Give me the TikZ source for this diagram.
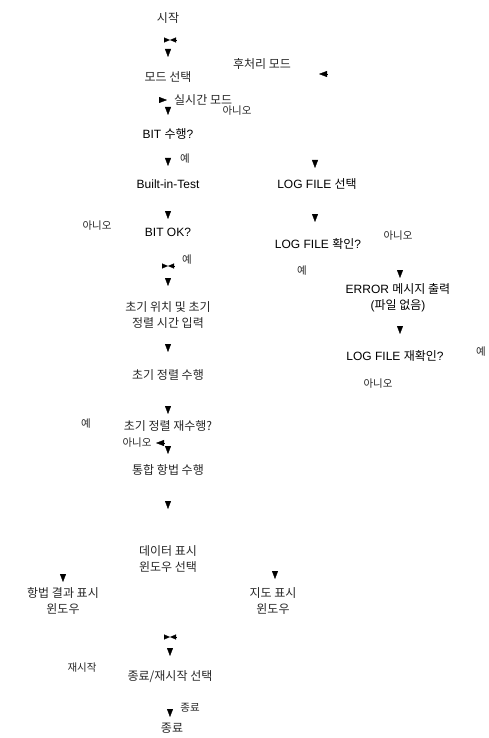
\documentclass[tikz,border=0pt]{standalone}
\usepackage{fontspec}
\setmainfont{Liberation Sans}
\newfontfamily\kr{Noto Sans CJK KR}
\usetikzlibrary{arrows.meta}
\begin{document}
\begin{tikzpicture}[x=1pt,y=-1pt,
  lbl/.style={font=\fontsize{12}{16}\selectfont, inner sep=0pt, align=center},
  klbl/.style={font=\fontsize{12}{16}\selectfont\kr, inner sep=0pt, align=center, text=black!85},
  yn/.style={font=\fontsize{10.5}{12}\selectfont\kr, inner sep=0pt, text=black!85},
  arr/.style={-{Triangle[width=6pt,length=8pt]}, line width=0.3pt},
  bow/.style={-{Triangle[width=5pt,length=6pt]}, line width=0.3pt}]
\useasboundingbox (0,0) rectangle (489,738);

% ---- nodes ----
\node[klbl] (start) at (168,18) {시작};
\node[klbl] (mode) at (168,77) {모드 선택};
\node[klbl] (post) at (262,64) {후처리 모드};
\node[klbl,anchor=west] (rt) at (174,100) {실시간 모드};
\node[yn] (no1) at (237,111) {아니오};
\node[lbl] (bitrun) at (168,134) {BIT {\kr 수행}?};
\node[yn] (yes1) at (185,159) {예};
\node[lbl] (bit) at (168,184) {Built-in-Test};
\node[lbl] (logsel) at (317,184) {LOG FILE {\kr 선택}};
\node[yn] (no2) at (97,226) {아니오};
\node[lbl] (bitok) at (168,232) {BIT OK?};
\node[lbl] (logchk) at (318,244) {LOG FILE {\kr 확인}?};
\node[yn] (no3) at (398,236) {아니오};
\node[yn] (yes2) at (187,260) {예};
\node[yn] (yes3) at (302,271) {예};
\node[lbl] (err) at (398,298) {ERROR {\kr 메시지 출력}\\({\kr 파일 없음})};
\node[klbl] (init) at (168,315) {초기 위치 및 초기\\정렬 시간 입력};
\node[lbl] (logre) at (395,356) {LOG FILE {\kr 재확인}?};
\node[yn] (yes4) at (481,352) {예};
\node[klbl] (align) at (168,375) {초기 정렬 수행};
\node[yn] (no4) at (378,384) {아니오};
\node[yn] (yes5) at (86,424) {예};
\node[klbl] (realign) at (168,426) {초기 정렬 재수행?};
\node[yn] (no5) at (137,443) {아니오};
\node[klbl] (nav) at (168,470) {통합 항법 수행};
\node[klbl] (disp) at (168,559) {데이터 표시\\윈도우 선택};
\node[klbl] (navwin) at (63,601) {항법 결과 표시\\윈도우};
\node[klbl] (mapwin) at (273,601) {지도 표시\\윈도우};
\node[yn] (restart) at (82,668) {재시작};
\node[klbl] (sel) at (170,677) {종료/재시작 선택};
\node[yn] (endlbl) at (190,708) {종료};
\node[klbl] (end) at (172,728) {종료};

% ---- arrow tip coordinates ----
\coordinate (d1) at (168,57);
\coordinate (d2) at (168,115);
\coordinate (d3) at (168,166);
\coordinate (d4) at (315,168);
\coordinate (d5) at (168,219);
\coordinate (d6) at (315,222);
\coordinate (d7) at (400,278);
\coordinate (d8) at (168,286);
\coordinate (d9) at (400,334);
\coordinate (d10) at (168,352);
\coordinate (d11) at (168,414);
\coordinate (d12) at (168,454);
\coordinate (d13) at (168,509);
\coordinate (d14) at (63,582);
\coordinate (d15) at (275,579);
\coordinate (d16) at (170,656);
\coordinate (d17) at (170,717);
\coordinate (l1) at (319,74);
\coordinate (l2) at (156,443);
\coordinate (r1) at (167,100);
\coordinate (b1) at (170,40);
\coordinate (b2) at (168,266);
\coordinate (b3) at (170,637);

% ---- arrowheads (line stubs hidden under the tips) ----
\foreach \c in {d1,d2,d3,d4,d5,d6,d7,d8,d9,d10,d11,d12,d13,d14,d15,d16,d17}
  \draw[arr] ([yshift=8pt]\c) -- (\c);
\draw[arr] ([xshift=8pt]l1) -- (l1);
\draw[arr] ([xshift=8pt]l2) -- (l2);
\draw[arr] ([xshift=-8pt]r1) -- (r1);
\foreach \c in {b1,b2,b3}{
  \draw[bow] ([xshift=-6pt]\c) -- (\c);
  \draw[bow] ([xshift=6pt]\c) -- (\c);
}
\end{tikzpicture}
\end{document}
